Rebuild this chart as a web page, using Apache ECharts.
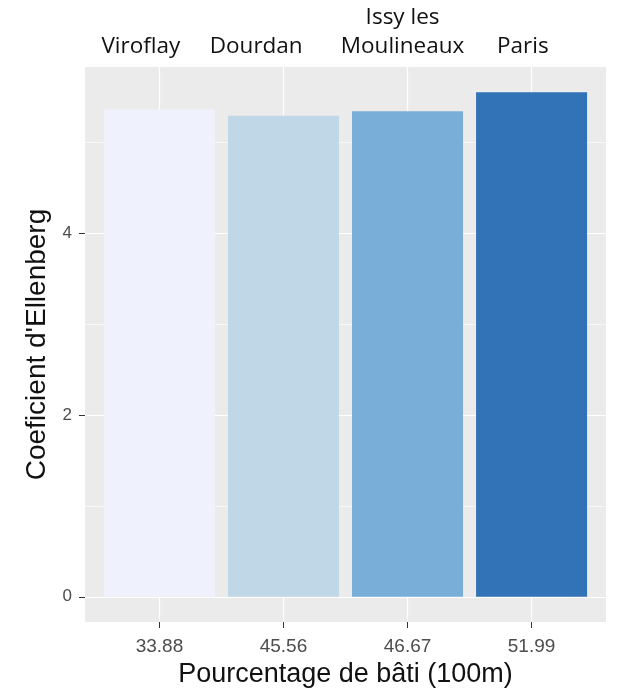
<!DOCTYPE html>
<html>
<head>
<meta charset="utf-8">
<script src="https://cdn.jsdelivr.net/npm/echarts@6/dist/echarts.min.js"></script>
<style>
  html, body { margin: 0; padding: 0; background: #fff; }
  #chart { width: 618px; height: 693px; }
</style>
</head>
<body>
<div id="chart"></div>
<script>
// towns (top labels), built-up share (bottom labels), Ellenberg coefficient
const towns = ["Viroflay", "Dourdan", "Issy les\nMoulineaux", "Paris"];
const batiLabels = ["33.88", "45.56", "46.67", "51.99"];
const ellenberg = [5.36, 5.29, 5.34, 5.55];
const barColors = ["#eff2fd", "#bfd7e7", "#78aed8", "#3272b7"];

const yMajor = [0, 2, 4];
const yMinor = [1, 3, 5];
const positions = [0, 1, 2, 3];

// the town names sit a little left of their bars in the original
const townShift = [-0.15, -0.22, -0.04, -0.07];
const townPos = positions.map((p, i) => p + townShift[i]);

const chart = echarts.init(document.getElementById("chart"));

const bars = ellenberg.map((v, i) => [i, v]);

chart.setOption({
    backgroundColor: "#fff",
    animation: false,
    grid: {
        left: 85,
        right: 12,
        top: 67,
        bottom: 71,
        show: true,
        backgroundColor: "#ebebeb",
        borderWidth: 0
    },
    xAxis: [
        {
            type: "value",
            min: -0.6,
            max: 3.6,
            position: "bottom",
            name: "Pourcentage de bâti (100m)",
            nameLocation: "middle",
            nameGap: 38,
            nameTextStyle: {
                fontFamily: "Liberation Sans",
                fontSize: 27,
                color: "#111"
            },
            axisLine: { show: false, onZero: false },
            axisTick: {
                show: true,
                customValues: positions,
                length: 6,
                lineStyle: { color: "#333", width: 1 }
            },
            axisLabel: {
                customValues: positions,
                margin: 15,
                fontFamily: "Liberation Sans",
                fontSize: 19,
                color: "#4d4d4d",
                formatter: v => batiLabels[Math.round(v)]
            },
            splitLine: {
                show: true,
                lineStyle: { color: "#fff", width: 1.2 }
            }
        },
        {
            type: "value",
            min: -0.6,
            max: 3.6,
            position: "top",
            axisLine: { show: false, onZero: false },
            axisTick: { show: false, customValues: townPos },
            axisLabel: {
                customValues: townPos,
                margin: 6,
                fontFamily: "Open Sans",
                fontSize: 22.5,
                lineHeight: 29,
                color: "#111",
                formatter: v => towns[Math.round(v)]
            },
            splitLine: { show: false }
        }
    ],
    yAxis: [
        {
            type: "value",
            min: -0.2775,
            max: 5.8275,
            name: "Coeficient d'Ellenberg",
            nameLocation: "middle",
            nameGap: 28,
            nameTextStyle: {
                fontFamily: "Liberation Sans",
                fontSize: 28,
                color: "#111"
            },
            axisLine: { show: false, onZero: false },
            axisTick: {
                show: true,
                customValues: yMajor,
                length: 6,
                lineStyle: { color: "#333", width: 1 }
            },
            axisLabel: {
                customValues: yMajor,
                margin: 13,
                fontFamily: "Liberation Sans",
                fontSize: 17,
                color: "#4d4d4d",
                padding: [0, 0, 10, 0]
            },
            splitLine: {
                show: true,
                lineStyle: { color: "#fff", width: 1.2 }
            }
        },
        {
            type: "value",
            min: -0.2775,
            max: 5.8275,
            axisLine: { show: false, onZero: false },
            axisTick: { show: false, customValues: yMinor },
            axisLabel: { show: false, customValues: yMinor },
            splitLine: {
                show: true,
                lineStyle: { color: "#fff", width: 0.6 }
            }
        }
    ],
    series: [
        {
            type: "bar",
            xAxisIndex: 0,
            yAxisIndex: 0,
            barWidth: 111,
            data: bars,
            itemStyle: {
                color: p => barColors[p.dataIndex]
            }
        }
    ]
});
</script>
</body>
</html>
